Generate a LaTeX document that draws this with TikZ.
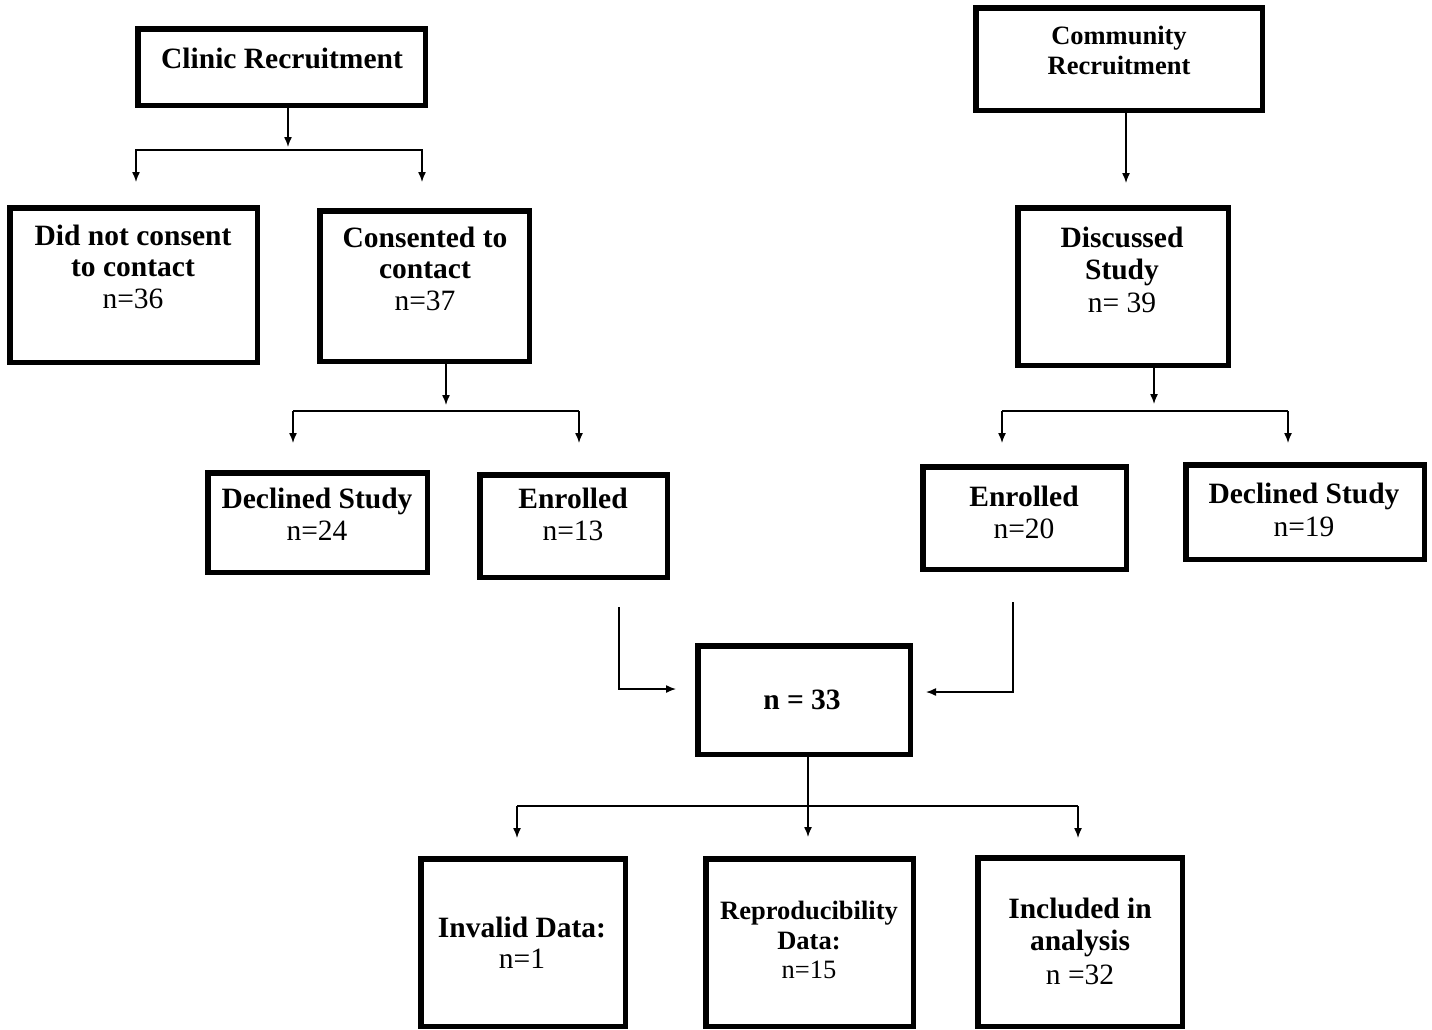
\documentclass[tikz,border=0pt]{standalone}
\usepackage{fontspec}
\setmainfont{Liberation Serif}
\usetikzlibrary{arrows.meta}
\begin{document}
\begin{tikzpicture}[x=1pt,y=-1pt,
  box/.style={draw, line width=5.5pt, inner sep=0pt},
  lbl/.style={anchor=base, inner sep=0pt, font=\fontsize{29.5}{31}\selectfont\bfseries},
  num/.style={anchor=base, inner sep=0pt, font=\fontsize{29.5}{31}\selectfont},
  slbl/.style={anchor=base, inner sep=0pt, font=\fontsize{26.5}{28}\selectfont\bfseries},
  snum/.style={anchor=base, inner sep=0pt, font=\fontsize{26.5}{28}\selectfont},
  conn/.style={line width=1.4pt},
  arr/.style={conn, -{Latex[length=10pt,width=8pt]}}]
\path[use as bounding box, fill=white] (0,0) rectangle (1432,1029);

% boxes
\node[box, minimum width=287.5pt, minimum height=76.5pt] (clinic) at (281.5,67) {};
\node[box, minimum width=286.5pt, minimum height=102.5pt] (comm) at (1119,59) {};
\node[box, minimum width=247.5pt, minimum height=154.5pt] (dnc) at (133.5,285) {};
\node[box, minimum width=209.5pt, minimum height=150.5pt] (cons) at (424.5,286) {};
\node[box, minimum width=210.5pt, minimum height=157.5pt] (disc) at (1123,286.5) {};
\node[box, minimum width=219.5pt, minimum height=99.5pt] (declL) at (317.5,522.5) {};
\node[box, minimum width=187.5pt, minimum height=102.5pt] (enrL) at (573.5,526) {};
\node[box, minimum width=203.5pt, minimum height=102.5pt] (enrR) at (1024.5,518) {};
\node[box, minimum width=238.5pt, minimum height=94.5pt] (declR) at (1305,512) {};
\node[box, minimum width=212.5pt, minimum height=108.5pt] (tot) at (804,700) {};
\node[box, minimum width=204.5pt, minimum height=167.5pt] (inv) at (523,942.5) {};
\node[box, minimum width=207.5pt, minimum height=167.5pt] (rep) at (809.5,942.5) {};
\node[box, minimum width=204.5pt, minimum height=168.5pt] (inc) at (1080,942) {};

% texts
\node[lbl] (clinicA) at (282,68) {Clinic Recruitment};
\node[slbl] (commA) at (1119,44) {Community};
\node[slbl] (commB) at (1119,74) {Recruitment};
\node[lbl] (dncA) at (133,245) {Did not consent};
\node[lbl] (dncB) at (133,276) {to contact};
\node[num] (dncC) at (133,308) {n=36};
\node[lbl] (consA) at (425,247) {Consented to};
\node[lbl] (consB) at (425,278) {contact};
\node[num] (consC) at (425,310) {n=37};
\node[lbl] (discA) at (1122,247) {Discussed};
\node[lbl] (discB) at (1122,279) {Study};
\node[num] (discC) at (1122,312) {n= 39};
\node[lbl] (declLA) at (317,508) {Declined Study};
\node[num] (declLB) at (317,540) {n=24};
\node[lbl] (enrLA) at (573,508) {Enrolled};
\node[num] (enrLB) at (573,540) {n=13};
\node[lbl] (enrRA) at (1024,506) {Enrolled};
\node[num] (enrRB) at (1024,538) {n=20};
\node[lbl] (declRA) at (1304,503) {Declined Study};
\node[num] (declRB) at (1304,536) {n=19};
\node[lbl] (totA) at (802,709) {n = 33};
\node[lbl] (invA) at (522,937) {Invalid Data:};
\node[num] (invB) at (522,968) {n=1};
\node[slbl] (repA) at (809,919) {Reproducibility};
\node[slbl] (repB) at (809,949) {Data:};
\node[snum] (repC) at (809,978) {n=15};
\node[lbl] (incA) at (1080,918) {Included in};
\node[lbl] (incB) at (1080,950) {analysis};
\node[num] (incC) at (1080,984) {n =32};

% junction coordinates
\coordinate (c1) at (288,147);
\coordinate (h1l) at (135,150);
\coordinate (h1r) at (423,150);
\coordinate (t1l) at (136,182);
\coordinate (t1r) at (422,182);

\coordinate (c2) at (446,405);
\coordinate (h2l) at (293,411);
\coordinate (h2r) at (579,411);
\coordinate (t2l) at (293,443);
\coordinate (t2r) at (579,443);

\coordinate (c3) at (1126,183);

\coordinate (c4) at (1154,404);
\coordinate (h4l) at (1002,411);
\coordinate (h4r) at (1288,411);
\coordinate (t4l) at (1002,443);
\coordinate (t4r) at (1288,443);

\coordinate (e1) at (619,607);
\coordinate (e1t) at (676,689);
\coordinate (e2) at (1013,602);
\coordinate (e2t) at (926,692);

\coordinate (c5) at (808,837);
\coordinate (h5l) at (517,806);
\coordinate (h5r) at (1078,806);
\coordinate (t5l) at (517,838);
\coordinate (t5r) at (1078,838);

% connectors
\draw[arr] (c1 |- clinic.south) -- (c1);
\draw[conn] (h1l) -- (h1r);
\draw[arr] (h1l -| t1l) -- (t1l);
\draw[arr] (h1r -| t1r) -- (t1r);

\draw[arr] (c2 |- cons.south) -- (c2);
\draw[conn] (h2l) -- (h2r);
\draw[arr] (h2l) -- (t2l);
\draw[arr] (h2r) -- (t2r);

\draw[arr] (c3 |- comm.south) -- (c3);

\draw[arr] (c4 |- disc.south) -- (c4);
\draw[conn] (h4l) -- (h4r);
\draw[arr] (h4l) -- (t4l);
\draw[arr] (h4r) -- (t4r);

\draw[arr] (e1) |- (e1t);
\draw[arr] (e2) |- (e2t);

\draw[arr] (c5 |- tot.south) -- (c5);
\draw[conn] (h5l) -- (h5r);
\draw[arr] (h5l) -- (t5l);
\draw[arr] (h5r) -- (t5r);
\end{tikzpicture}
\end{document}
